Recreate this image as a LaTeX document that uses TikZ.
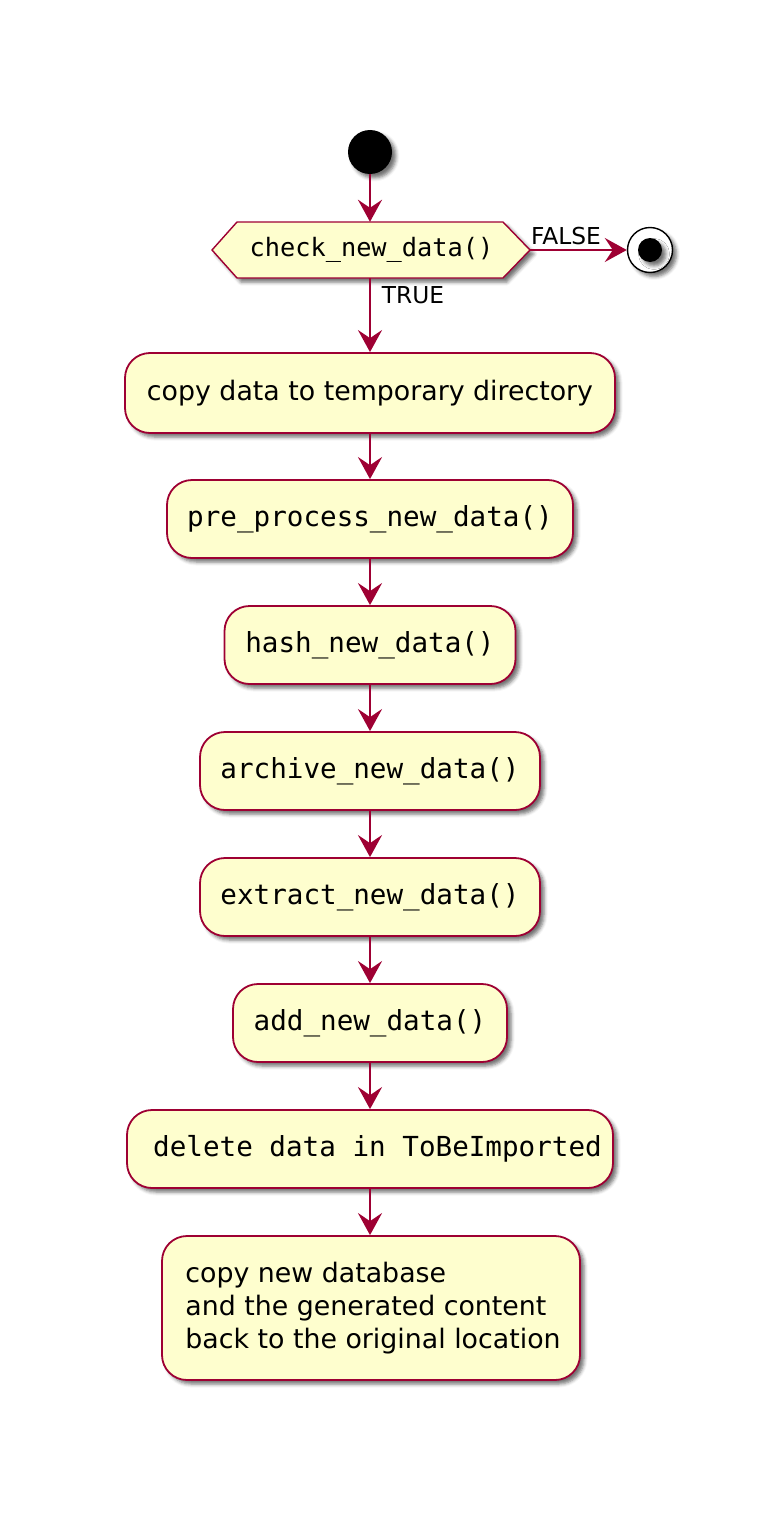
\documentclass[tikz,border=0pt]{standalone}
\usepackage{fontspec}
\setmainfont{DejaVu Sans}
\newfontfamily\monof{DejaVu Sans Mono}
\usetikzlibrary{arrows.meta,shadows.blur}
\definecolor{plborder}{HTML}{9E0033}
\definecolor{plfill}{HTML}{FEFECE}
\begin{document}
\begin{tikzpicture}[x=1pt,y=-1pt,
  shd/.style={blur shadow={shadow xshift=4pt, shadow yshift=-4pt, shadow blur radius=3.5pt, shadow opacity=55}},
  act/.style={draw=plborder, fill=plfill, line width=1.8pt, rounded corners=25pt, minimum height=78pt, inner sep=0pt, shd},
  sanst/.style={font=\fontsize{26.8}{33}\selectfont},
  monot/.style={font=\monof\fontsize{27.6}{33}\selectfont},
  flow/.style={draw=plborder, line width=2.4pt, -{Stealth[length=22pt,width=24pt,inset=8pt]}},
  lbl/.style={font=\fontsize{23.3}{28}\selectfont, inner sep=0pt}]
\useasboundingbox (0,0) rectangle (768,1536);

% start
\node[circle, fill=black, minimum size=44pt, inner sep=0pt, shd] (start) at (370,152) {};

% decision
\filldraw[draw=plborder, fill=plfill, line width=1.4pt, shd] (212,250) -- (237,222) -- (503,222) -- (530,250) -- (503,278) -- (237,278) -- cycle;
\node[minimum width=318pt, minimum height=56pt, inner sep=0pt, font=\monof\fontsize{25.3}{30}\selectfont] (check) at (370,250) {\hspace*{3pt}check\_new\_data()};

% stop
\node[circle, draw=black, fill=white, line width=1.4pt, minimum size=45pt, inner sep=0pt, shd] (stop) at (650,250) {};
\node[circle, fill=black, minimum size=24pt, inner sep=0pt, shd] (stopin) at (stop.center) {};

% activities
\node[act, sanst, minimum width=490pt, minimum height=80pt] (a1) at (370,393) {copy data to temporary directory};
\node[act, monot, minimum width=406pt] (a2) at (370,519) {pre\_process\_new\_data()};
\node[act, monot, minimum width=291pt] (a3) at (370,645) {hash\_new\_data()};
\node[act, monot, minimum width=340pt] (a4) at (370,771) {archive\_new\_data()};
\node[act, monot, minimum width=340pt] (a5) at (370,897) {extract\_new\_data()};
\node[act, monot, minimum width=274pt] (a6) at (370,1023) {add\_new\_data()};
\node[act, monot, minimum width=486pt] (a7) at (370,1149) {\hspace*{15pt}delete data in ToBeImported};
\node[act, sanst, minimum width=418pt, minimum height=144pt, align=left] (a8) at (371,1308) {\hspace*{4pt}copy new database\\\hspace*{4pt}and the generated content\\\hspace*{4pt}back to the original location};

% connectors
\draw[flow] (start) -- (check.north);
\draw[flow] (check.east) -- (stop.west);
\draw[flow] (check.south) -- (a1.north);
\draw[flow] (a1) -- (a2);
\draw[flow] (a2) -- (a3);
\draw[flow] (a3) -- (a4);
\draw[flow] (a4) -- (a5);
\draw[flow] (a5) -- (a6);
\draw[flow] (a6) -- (a7);
\draw[flow] (a7) -- (a8.north -| a7.south);

% labels
\node[lbl] (lfalse) at (566,236) {FALSE};
\node[lbl] (ltrue) at (413,295) {TRUE};
\end{tikzpicture}
\end{document}
